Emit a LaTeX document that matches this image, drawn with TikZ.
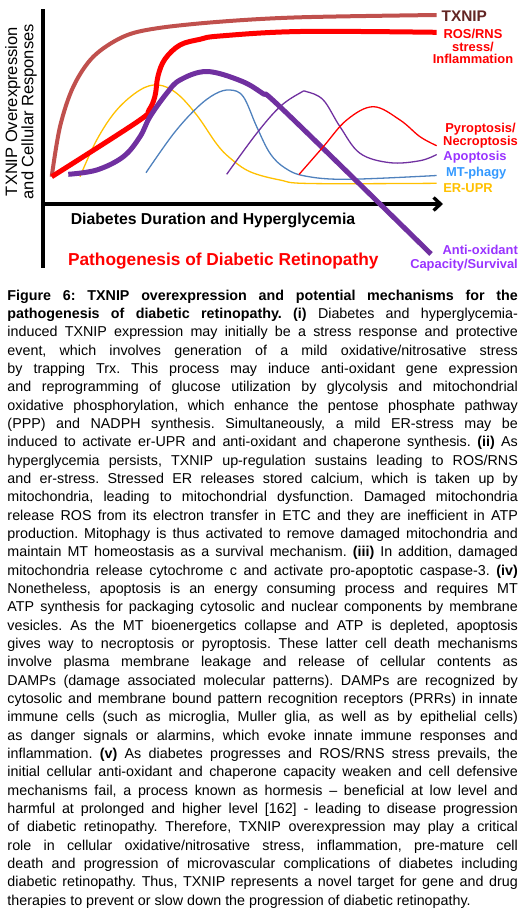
\documentclass[tikz,border=0pt]{standalone}
\usepackage{fontspec}
\setmainfont{Liberation Sans}
\usepackage{xcolor}
\usetikzlibrary{arrows.meta}
\definecolor{txbrown}{HTML}{C0504D}
\definecolor{txdark}{HTML}{632523}
\definecolor{rosred}{HTML}{FF0000}
\definecolor{antipurple}{HTML}{7030A0}
\definecolor{erugold}{HTML}{FFC000}
\definecolor{mtblue}{HTML}{4F81BD}
\definecolor{labviolet}{HTML}{9933FF}
\definecolor{labblue}{HTML}{3399FF}
\tikzset{
  curvelabel/.style={font=\fontsize{12.9}{12.3}\selectfont\bfseries,inner sep=0pt,align=center},
  thincurve/.style={line width=1.3pt,smooth,tension=0.6},
  thickcurve/.style={line width=5pt,smooth,tension=0.6}
}

\begin{document}
\begin{tikzpicture}[x=1pt,y=-1pt]
  \useasboundingbox (0,0) rectangle (532,914);
  % axes
  \coordinate (ytop) at (42.7,9.3);
  \coordinate (ybot) at (42.7,268);
  \coordinate (origin) at (41,204);
  \coordinate (xend) at (443,204);
  \draw[line width=4pt] (ytop) -- (ybot);
  \draw[line width=3.3pt,-{Straight Barb[length=7pt,width=13pt]}] (origin) -- (xend);
  % thin response curves
  \draw[erugold,thincurve] plot coordinates {
    (80,176.7) (96.7,140) (116.7,110) (140,90) (158.3,85) (176.7,93.3)
    (196.7,115) (216.7,144) (230,158) (250,171.7) (280,180) (310,183.5) (436.7,183.3)};
  \draw[mtblue,thincurve] plot coordinates {
    (146,172.7) (173.3,134) (196.7,108) (215,94) (230,90) (243.3,96.7) (256.7,126.7)
    (270,153.3) (285,168) (305,176) (346.7,179.3) (436.7,175.5)};
  \draw[antipurple,thincurve] plot coordinates {
    (226.7,174.3) (256.7,133.3) (280,106.7) (300,93) (306.7,91.7) (323.3,100) (340,126.7)
    (360,153.3) (390,162.7) (420,160.7) (436.7,154.5)};
  % TXNIP and ROS/RNS
  \draw[txbrown,line width=4pt,smooth,tension=0.55] plot coordinates {
    (51.7,176.7) (60,126.7) (73.3,86.7) (93.3,56.7) (123.3,36.7) (156.7,28.3)
    (220,21.7) (300,17.3) (436.7,15)};
  \draw[rosred,thickcurve] plot coordinates {
    (51.7,176.7) (137,122) (149,110) (155,96) (158,76) (165,59)
    (180,45) (200,39.3) (220,36) (300,31.5) (436.7,32.3)};
  % anti-oxidant capacity
  \draw[antipurple,thickcurve] plot coordinates {
    (68.3,174.3) (96.7,170) (123.3,156.7) (140,136.7) (150,116.7) (166.7,93.3)
    (180,80) (206.7,71.5) (240,80.5) (262,93) (285,111.5) (431,254)};
  \draw[rosred,thincurve] plot coordinates {
    (299,174.5) (323.3,146.7) (346.7,120) (373.3,106.7) (400,120) (420,136.7) (436.7,145.7)};
  % labels
  \node[curvelabel,txdark,font=\fontsize{15.4}{15}\selectfont\bfseries] (lbltxnip) at (464.3,15.7) {TXNIP};
  \node[curvelabel,rosred] (lblros) at (473,46.5) {ROS/RNS\\stress/\\Inflammation};
  \node[curvelabel,rosred,font=\fontsize{12.9}{13.7}\selectfont\bfseries] (lblpyro) at (480.5,135.8) {Pyroptosis/\\Necroptosis};
  \node[curvelabel,labviolet] (lblapo) at (475,156.7) {Apoptosis};
  \node[curvelabel,labblue] (lblmt) at (476.2,172.7) {MT-phagy};
  \node[curvelabel,erugold] (lbler) at (468,188.3) {ER-UPR};
  \node[curvelabel,labviolet,align=right,anchor=east,font=\fontsize{12.9}{14.3}\selectfont\bfseries] (lblanti) at (518,258) {Anti-oxidant\\Capacity/Survival};
  \node[rotate=90,align=center,inner sep=0pt,font=\fontsize{16.5}{15}\selectfont] (ylabel) at (21,111.7)
    {TXNIP Overexpression\\and Cellular Responses};
  \node[inner sep=0pt,font=\fontsize{15.8}{16}\selectfont\bfseries] (xlabel) at (213,220.7)
    {Diabetes Duration and Hyperglycemia};
  \node[inner sep=0pt,rosred,font=\fontsize{17.3}{18}\selectfont\bfseries] (title) at (223.3,261)
    {Pathogenesis of Diabetic Retinopathy};
  % caption
  \node[anchor=north west,inner sep=0pt,text width=510.4pt,align=justify,
        font=\fontsize{14.3}{18.33}\selectfont] (caption) at (7.3,289.6) {%
    \frenchspacing\hyphenpenalty=10000\exhyphenpenalty=10000\tolerance=9999\relax
    \textbf{Figure 6: TXNIP overexpression and potential mechanisms for the}\linebreak
    \textbf{pathogenesis of diabetic retinopathy. (i)} Diabetes and hyperglycemia-\linebreak
    induced TXNIP expression may initially be a stress response and protective\linebreak
    event, which involves generation of a mild oxidative/nitrosative stress\linebreak
    by trapping Trx. This process may induce anti-oxidant gene expression\linebreak
    and reprogramming of glucose utilization by glycolysis and mitochondrial\linebreak
    oxidative phosphorylation, which enhance the pentose phosphate pathway\linebreak
    (PPP) and NADPH synthesis. Simultaneously, a mild ER-stress may be\linebreak
    induced to activate er-UPR and anti-oxidant and chaperone synthesis. \textbf{(ii)} As\linebreak
    hyperglycemia persists, TXNIP up-regulation sustains leading to ROS/RNS\linebreak
    and er-stress. Stressed ER releases stored calcium, which is taken up by\linebreak
    mitochondria, leading to mitochondrial dysfunction. Damaged mitochondria\linebreak
    release ROS from its electron transfer in ETC and they are inefficient in ATP\linebreak
    production. Mitophagy is thus activated to remove damaged mitochondria and\linebreak
    maintain MT homeostasis as a survival mechanism. \textbf{(iii)} In addition, damaged\linebreak
    mitochondria release cytochrome c and activate pro-apoptotic caspase-3. \textbf{(iv)}\linebreak
    Nonetheless, apoptosis is an energy consuming process and requires MT\linebreak
    ATP synthesis for packaging cytosolic and nuclear components by membrane\linebreak
    vesicles. As the MT bioenergetics collapse and ATP is depleted, apoptosis\linebreak
    gives way to necroptosis or pyroptosis. These latter cell death mechanisms\linebreak
    involve plasma membrane leakage and release of cellular contents as\linebreak
    DAMPs (damage associated molecular patterns). DAMPs are recognized by\linebreak
    cytosolic and membrane bound pattern recognition receptors (PRRs) in innate\linebreak
    immune cells (such as microglia, Muller glia, as well as by epithelial cells)\linebreak
    as danger signals or alarmins, which evoke innate immune responses and\linebreak
    inflammation. \textbf{(v)} As diabetes progresses and ROS/RNS stress prevails, the\linebreak
    initial cellular anti-oxidant and chaperone capacity weaken and cell defensive\linebreak
    mechanisms fail, a process known as hormesis \textendash{} beneficial at low level and\linebreak
    harmful at prolonged and higher level [162] - leading to disease progression\linebreak
    of diabetic retinopathy. Therefore, TXNIP overexpression may play a critical\linebreak
    role in cellular oxidative/nitrosative stress, inflammation, pre-mature cell\linebreak
    death and progression of microvascular complications of diabetes including\linebreak
    diabetic retinopathy. Thus, TXNIP represents a novel target for gene and drug\linebreak
    therapies to prevent or slow down the progression of diabetic retinopathy.};
\end{tikzpicture}
\end{document}
